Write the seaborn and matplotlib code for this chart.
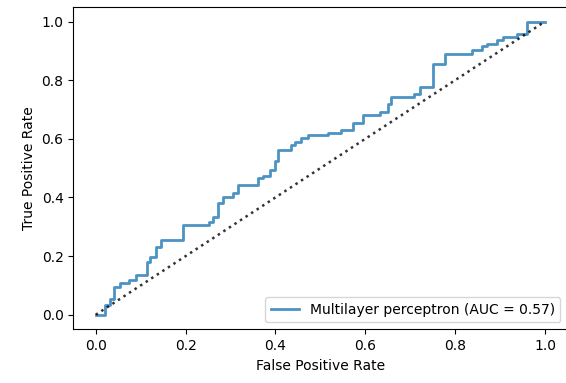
import matplotlib
matplotlib.use("Agg")
import matplotlib.pyplot as plt
import seaborn as sns
import pandas as pd

# ROC curve corner points (fpr where a step up occurs, tpr after the step)
fpr = [0.0, 0.020, 0.031, 0.041, 0.053, 0.075, 0.090, 0.113, 0.120, 0.135,
       0.146, 0.194, 0.251, 0.262, 0.273, 0.284, 0.306, 0.317, 0.362, 0.373,
       0.388, 0.399, 0.405, 0.435, 0.443, 0.458, 0.472, 0.517, 0.547, 0.573,
       0.595, 0.633, 0.651, 0.657, 0.708, 0.722, 0.751, 0.777, 0.837, 0.859,
       0.870, 0.893, 0.907, 0.937, 0.959, 1.0]
tpr = [0.0, 0.034, 0.052, 0.094, 0.108, 0.120, 0.137, 0.180, 0.197, 0.231,
       0.256, 0.305, 0.317, 0.334, 0.380, 0.402, 0.414, 0.442, 0.465, 0.473,
       0.494, 0.525, 0.562, 0.578, 0.590, 0.602, 0.613, 0.621, 0.630, 0.653,
       0.682, 0.693, 0.720, 0.742, 0.753, 0.777, 0.855, 0.890, 0.904, 0.915,
       0.924, 0.938, 0.946, 0.958, 1.0, 1.0]
chance_x = [0.0, 1.0]
chance_y = [0.0, 1.0]
label = "Multilayer perceptron (AUC = 0.57)"

roc = pd.DataFrame({"fpr": fpr, "tpr": tpr})
diag = pd.DataFrame({"x": chance_x, "y": chance_y})

fig = plt.figure(figsize=(5.66, 3.83), dpi=100)
ax = fig.add_axes([0.1295, 0.140, 0.873, 0.842])

sns.lineplot(data=roc, x="fpr", y="tpr", ax=ax, estimator=None, sort=False,
             drawstyle="steps-post", color="#1f77b4", alpha=0.8, lw=2,
             label=label)
sns.lineplot(data=diag, x="x", y="y", ax=ax, estimator=None, sort=False,
             color="black", linestyle=":", lw=1.8, alpha=0.8)

ax.set_xlim(-0.05, 1.05)
ax.set_ylim(-0.05, 1.05)
ax.set_xticks([0.0, 0.2, 0.4, 0.6, 0.8, 1.0])
ax.set_yticks([0.0, 0.2, 0.4, 0.6, 0.8, 1.0])
ax.set_xlabel("False Positive Rate")
ax.set_ylabel("True Positive Rate")
ax.legend(loc="lower right")

fig.savefig("out.png", dpi=100)
